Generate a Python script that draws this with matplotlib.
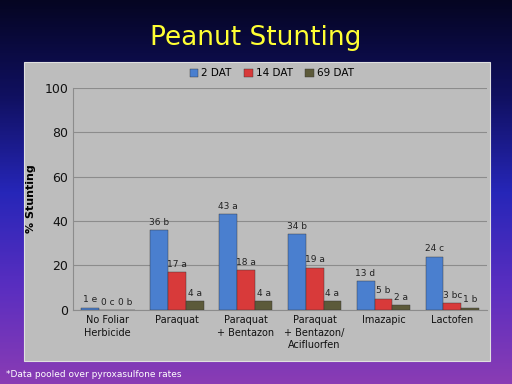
import numpy as np
import matplotlib.pyplot as plt
from matplotlib.colors import LinearSegmentedColormap
from matplotlib.patches import Rectangle

# Daten
categories = ["No Foliar\nHerbicide", "Paraquat", "Paraquat\n+ Bentazon",
              "Paraquat\n+ Bentazon/\nAcifluorfen", "Imazapic", "Lactofen"]
series = ["2 DAT", "14 DAT", "69 DAT"]
dat2 = [1, 36, 43, 34, 13, 24]
dat14 = [0, 17, 18, 19, 5, 3]
dat69 = [0, 4, 4, 4, 2, 1]
lab2 = ["1 e", "36 b", "43 a", "34 b", "13 d", "24 c"]
lab14 = ["0 c", "17 a", "18 a", "19 a", "5 b", "3 bc"]
lab69 = ["0 b", "4 a", "4 a", "4 a", "2 a", "1 b"]
colors = ["#4a7fcf", "#d83a3a", "#5c5a3a"]

fig = plt.figure(figsize=(5.12, 3.84), dpi=100)

# Hintergrund-Verlauf
bg = fig.add_axes([0, 0, 1, 1], zorder=0)
cmap = LinearSegmentedColormap.from_list(
    "bg", ["#050522", "#101060", "#2626b8", "#5a2ec0", "#8a3cb4"])
grad = np.linspace(0, 1, 256).reshape(-1, 1)
bg.imshow(grad, aspect="auto", cmap=cmap, extent=[0, 1, 0, 1], origin="upper")
bg.axis("off")
bg.add_patch(Rectangle((0.047, 0.060), 0.91, 0.779, facecolor="#bdbdbd",
                       edgecolor="#e0e0e0", lw=0.8, transform=bg.transAxes))

fig.text(0.5, 0.90, "Peanut Stunting", color="#ffff33", fontsize=19,
         ha="center", va="center")
fig.text(0.012, 0.026, "*Data pooled over pyroxasulfone rates", color="white",
         fontsize=6.5, ha="left", va="center")

ax = fig.add_axes([0.143, 0.193, 0.808, 0.578], zorder=1)
ax.patch.set_alpha(0)
x = np.arange(len(categories))
w = 0.26
for i, (vals, labs) in enumerate(zip([dat2, dat14, dat69], [lab2, lab14, lab69])):
    pos = x + (i - 1) * w
    ax.bar(pos, vals, w, color=colors[i], edgecolor="#333333", lw=0.3,
           label=series[i], zorder=3)
    for p, v, t in zip(pos, vals, labs):
        ax.text(p, v + 1.5, t, ha="center", va="bottom", fontsize=6.5,
                color="#222222", zorder=4)

ax.set_xlim(-0.5, len(categories) - 0.5)
ax.set_ylim(0, 100)
ax.set_yticks(range(0, 101, 20))
ax.tick_params(axis="y", length=0, labelsize=9, colors="#111111")
ax.tick_params(axis="x", length=0, labelsize=7, colors="#111111")
ax.set_xticks(x)
ax.set_xticklabels(categories, va="top", linespacing=1.35)
ax.grid(axis="y", color="#8c8c8c", lw=0.8, zorder=0)
for s in ["top", "right"]:
    ax.spines[s].set_visible(False)
ax.spines["left"].set_color("#8c8c8c")
ax.spines["bottom"].set_color("#8c8c8c")
ax.set_ylabel("% Stunting", fontsize=8, fontweight="bold", labelpad=6)
ax.legend(loc="upper center", bbox_to_anchor=(0.48, 1.13), ncol=3,
          frameon=False, fontsize=7.5, handlelength=0.8, handleheight=0.8,
          handletextpad=0.3, columnspacing=1.2)

fig.savefig("out.png", dpi=100)
